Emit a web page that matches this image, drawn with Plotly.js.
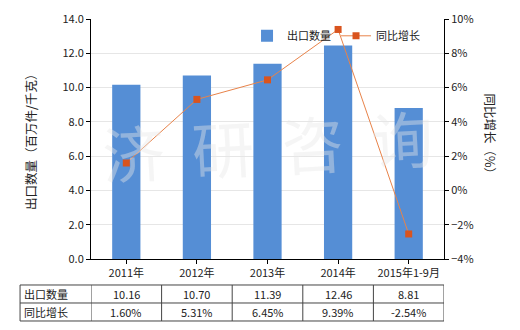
<!DOCTYPE html>
<html><head><meta charset="utf-8">
<script src="https://cdn.plot.ly/plotly-3.0.1.min.js"></script>
<style>html,body{margin:0;padding:0;background:#fff}#c{width:520px;height:330px}</style>
</head><body><div id="c"></div>
<script>
const categories = ['2011年','2012年','2013年','2014年','2015年1-9月'];
const exportQty = [10.16, 10.70, 11.39, 12.46, 8.81];
const yoyGrowth = [1.60, 5.31, 6.45, 9.39, -2.54];
const qtyLabels = ['10.16','10.70','11.39','12.46','8.81'];
const yoyLabels = ['1.60%','5.31%','6.45%','9.39%','-2.54%'];
const seriesNames = ['出口数量','同比增长'];
const axisTitles = ['出口数量（百万件/千克）','同比增长（%）'];

const F = '"Noto Sans CJK SC","Microsoft YaHei",sans-serif';
const xs = categories.map((_, i) => i);

const traces = [
  {type:'bar', x: xs, y: exportQty, name: seriesNames[0], marker:{color:'#558ED5'}, width:0.4, yaxis:'y'},
  {type:'scatter', mode:'lines+markers', x: xs, y: yoyGrowth, name: seriesNames[1], yaxis:'y2',
   line:{color:'#E8834A', width:1}, marker:{symbol:'square', size:7, color:'#D9541E'}}
];

const rowY = [-0.1458, -0.2208];
const lineY = [-0.1083, -0.1833, -0.2583];
const shapes = [];
const annotations = [];
lineY.forEach(y => shapes.push({type:'line', xref:'paper', yref:'paper', x0:-0.201, x1:1, y0:y, y1:y, line:{color:'#444', width:1}}));
shapes.push({type:'line', xref:'paper', yref:'paper', x0:-0.201, x1:-0.201, y0:lineY[0], y1:lineY[2], line:{color:'#444', width:1}});
for (let i = 0; i <= categories.length; i++) {
  shapes.push({type:'line', xref:'x', yref:'paper', x0:i-0.5, x1:i-0.5, y0:lineY[0], y1:lineY[2], line:{color:'#444', width:1}});
}
[seriesNames[0], seriesNames[1]].forEach((t, r) => annotations.push({xref:'paper', yref:'paper', x:-0.195, y:rowY[r], text:t, showarrow:false, xanchor:'left', yanchor:'middle', font:{family:F, size:11, color:'#222'}}));
[qtyLabels, yoyLabels].forEach((arr, r) => arr.forEach((t, i) => annotations.push({xref:'x', yref:'paper', x:i, y:rowY[r], text:t, showarrow:false, xanchor:'center', yanchor:'middle', font:{family:F, size:11, color:'#222'}})));
annotations.push({xref:'paper', yref:'paper', x:0.5, y:0.48, text:'济  研  咨  询', showarrow:false, font:{family:F, size:62, color:'rgba(232,232,232,0.42)'}, textangle:-3});
// axis titles
annotations.push({xref:'paper', yref:'paper', x:(30-91)/353, y:0.5, text:axisTitles[0], showarrow:false, textangle:-90, xanchor:'center', yanchor:'middle', font:{family:F, size:12.5, color:'#222'}});
annotations.push({xref:'paper', yref:'paper', x:(490-91)/353, y:0.51, text:axisTitles[1], showarrow:false, textangle:90, xanchor:'center', yanchor:'middle', font:{family:F, size:12.5, color:'#222'}});

const layout = {
  width:520, height:330,
  margin:{l:91, r:76, t:19, b:71},
  paper_bgcolor:'#fff', plot_bgcolor:'#fff',
  font:{family:F, size:11, color:'#222'},
  showlegend:true,
  legend:{orientation:'h', x:0.442, y:0.93, xanchor:'left', yanchor:'middle', bgcolor:'rgba(0,0,0,0)', font:{family:F, size:11, color:'#222'}, itemwidth:30},
  xaxis:{range:[-0.5,4.5], tickmode:'array', tickvals:xs, ticktext:categories, showline:true, linecolor:'#000', linewidth:1, ticks:'outside', ticklen:4, tickcolor:'#000', showgrid:false, zeroline:false, fixedrange:true},
  yaxis:{range:[0,14], dtick:2, tickformat:'.1f', showline:true, linecolor:'#000', linewidth:1, ticks:'outside', ticklen:4, tickcolor:'#000', gridcolor:'#E6E6E6', zeroline:false},
  yaxis2:{range:[-4,10], dtick:2, ticksuffix:'%', overlaying:'y', side:'right', showline:true, linecolor:'#000', linewidth:1, ticks:'outside', ticklen:4, tickcolor:'#000', showgrid:false, zeroline:false},
  bargap:0.6,
  shapes:shapes,
  annotations:annotations
};
Plotly.newPlot('c', traces, layout, {displayModeBar:false, staticPlot:true});
</script></body></html>
